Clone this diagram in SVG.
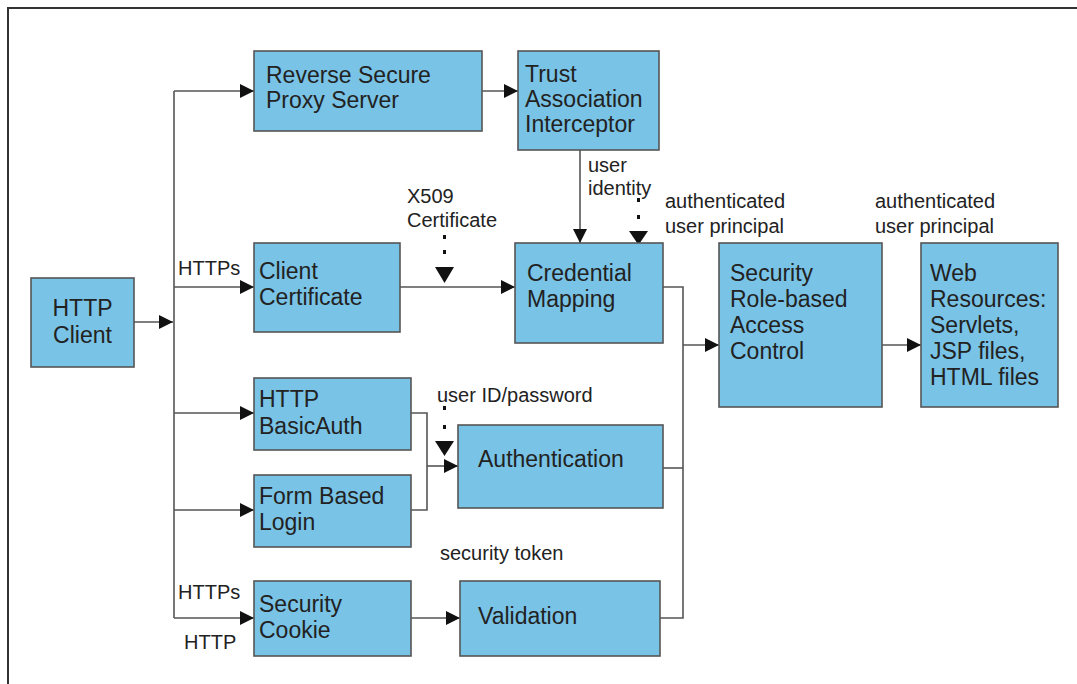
<svg xmlns="http://www.w3.org/2000/svg" width="1077" height="684" viewBox="0 0 1077 684">
  <defs>
    <style>
      .box { fill: #79c3e6; stroke: #555; stroke-width: 1.6; }
      .node { font-family: "Liberation Sans", Arial, sans-serif; font-size: 23px; fill: #222; }
      .lbl { font-family: "Liberation Sans", Arial, sans-serif; font-size: 20px; fill: #222; }
      .wire { fill: none; stroke: #555; stroke-width: 1.6; }
      .dot { fill: #111; }
      .head { fill: #111; }
    </style>
    <marker id="arr" viewBox="0 0 14 14" refX="14" refY="7" markerWidth="14" markerHeight="14" markerUnits="userSpaceOnUse" orient="auto">
      <path d="M0,0 L14,7 L0,14 Z" fill="#111"/>
    </marker>
  </defs>

  <rect width="1077" height="684" fill="#fff"/>
  <!-- frame -->
  <path d="M8,684 V8 H1077" fill="none" stroke="#333" stroke-width="2"/>

  <!-- connectors -->
  <g id="connectors">
    <!-- client to trunk -->
    <path class="wire" d="M134,322 H173" marker-end="url(#arr)"/>
    <!-- trunk -->
    <path class="wire" d="M174,91 V618"/>
    <path class="wire" d="M174,91 H254" marker-end="url(#arr)"/>
    <path class="wire" d="M174,287 H254" marker-end="url(#arr)"/>
    <path class="wire" d="M174,413 H254" marker-end="url(#arr)"/>
    <path class="wire" d="M174,510 H254" marker-end="url(#arr)"/>
    <path class="wire" d="M174,618 H254" marker-end="url(#arr)"/>
    <!-- proxy to TAI -->
    <path class="wire" d="M482,91 H518" marker-end="url(#arr)"/>
    <!-- TAI to credential mapping -->
    <path class="wire" d="M580,150 V243" marker-end="url(#arr)"/>
    <!-- client certificate to credential mapping -->
    <path class="wire" d="M400,287 H515" marker-end="url(#arr)"/>
    <!-- basic auth / form login to authentication -->
    <path class="wire" d="M411,413 H427 V510 H411"/>
    <path class="wire" d="M427,466 H458" marker-end="url(#arr)"/>
    <!-- security cookie to validation -->
    <path class="wire" d="M411,618 H460" marker-end="url(#arr)"/>
    <!-- collector to access control -->
    <path class="wire" d="M663,287 H683 V618 H660"/>
    <path class="wire" d="M663,468 H683"/>
    <path class="wire" d="M683,345 H719" marker-end="url(#arr)"/>
    <!-- access control to web resources -->
    <path class="wire" d="M882,345 H921" marker-end="url(#arr)"/>

    <!-- dotted arrows -->
    <rect class="dot" x="443" y="235" width="3" height="4"/>
    <rect class="dot" x="443" y="250" width="3" height="4"/>
    <path class="head" d="M435,267 L454,267 L444.5,283 Z"/>

    <rect class="dot" x="637" y="198" width="3" height="4"/>
    <rect class="dot" x="637" y="215" width="3" height="4"/>
    <path class="head" d="M629,231 L648,231 L638.5,245 Z"/>

    <rect class="dot" x="443" y="406" width="3" height="4"/>
    <rect class="dot" x="443" y="425" width="3" height="4"/>
    <path class="head" d="M435,441 L454,441 L444.5,456 Z"/>
  </g>

  <!-- nodes -->
  <g id="http-client">
    <rect class="box" x="31" y="278" width="103" height="89"/>
    <text class="node" x="82.5" y="316" text-anchor="middle">HTTP</text>
    <text class="node" x="82.5" y="343" text-anchor="middle">Client</text>
  </g>
  <g id="reverse-proxy">
    <rect class="box" x="254" y="51" width="228" height="80"/>
    <text class="node" x="266" y="83">Reverse Secure</text>
    <text class="node" x="266" y="108">Proxy Server</text>
  </g>
  <g id="tai">
    <rect class="box" x="518" y="51" width="141" height="99"/>
    <text class="node" x="525" y="82">Trust</text>
    <text class="node" x="525" y="107">Association</text>
    <text class="node" x="525" y="132">Interceptor</text>
  </g>
  <g id="client-certificate">
    <rect class="box" x="254" y="243" width="146" height="89"/>
    <text class="node" x="259" y="279">Client</text>
    <text class="node" x="259" y="305">Certificate</text>
  </g>
  <g id="credential-mapping">
    <rect class="box" x="515" y="243" width="148" height="100"/>
    <text class="node" x="527" y="281">Credential</text>
    <text class="node" x="527" y="307">Mapping</text>
  </g>
  <g id="access-control">
    <rect class="box" x="719" y="243" width="163" height="164"/>
    <text class="node" x="730" y="281">Security</text>
    <text class="node" x="730" y="307">Role-based</text>
    <text class="node" x="730" y="333">Access</text>
    <text class="node" x="730" y="359">Control</text>
  </g>
  <g id="web-resources">
    <rect class="box" x="921" y="243" width="137" height="164"/>
    <text class="node" x="930" y="281">Web</text>
    <text class="node" x="930" y="307">Resources:</text>
    <text class="node" x="930" y="333">Servlets,</text>
    <text class="node" x="930" y="359">JSP files,</text>
    <text class="node" x="930" y="385">HTML files</text>
  </g>
  <g id="basic-auth">
    <rect class="box" x="254" y="378" width="157" height="72"/>
    <text class="node" x="259" y="407">HTTP</text>
    <text class="node" x="259" y="434">BasicAuth</text>
  </g>
  <g id="form-login">
    <rect class="box" x="254" y="475" width="157" height="72"/>
    <text class="node" x="259" y="504">Form Based</text>
    <text class="node" x="259" y="530">Login</text>
  </g>
  <g id="security-cookie">
    <rect class="box" x="254" y="581" width="157" height="75"/>
    <text class="node" x="259" y="612">Security</text>
    <text class="node" x="259" y="638">Cookie</text>
  </g>
  <g id="authentication">
    <rect class="box" x="458" y="425" width="205" height="83"/>
    <text class="node" x="478" y="467">Authentication</text>
  </g>
  <g id="validation">
    <rect class="box" x="460" y="581" width="200" height="75"/>
    <text class="node" x="478" y="624">Validation</text>
  </g>

  <!-- labels -->
  <g id="labels">
    <text class="lbl" x="178" y="275">HTTPs</text>
    <text class="lbl" x="178" y="599">HTTPs</text>
    <text class="lbl" x="184" y="649">HTTP</text>
    <text class="lbl" x="407" y="203">X509</text>
    <text class="lbl" x="407" y="227">Certificate</text>
    <text class="lbl" x="588" y="172">user</text>
    <text class="lbl" x="588" y="195">identity</text>
    <text class="lbl" x="665" y="208">authenticated</text>
    <text class="lbl" x="665" y="233">user principal</text>
    <text class="lbl" x="875" y="208">authenticated</text>
    <text class="lbl" x="875" y="233">user principal</text>
    <text class="lbl" x="437" y="402">user ID/password</text>
    <text class="lbl" x="440" y="560">security token</text>
  </g>
</svg>
